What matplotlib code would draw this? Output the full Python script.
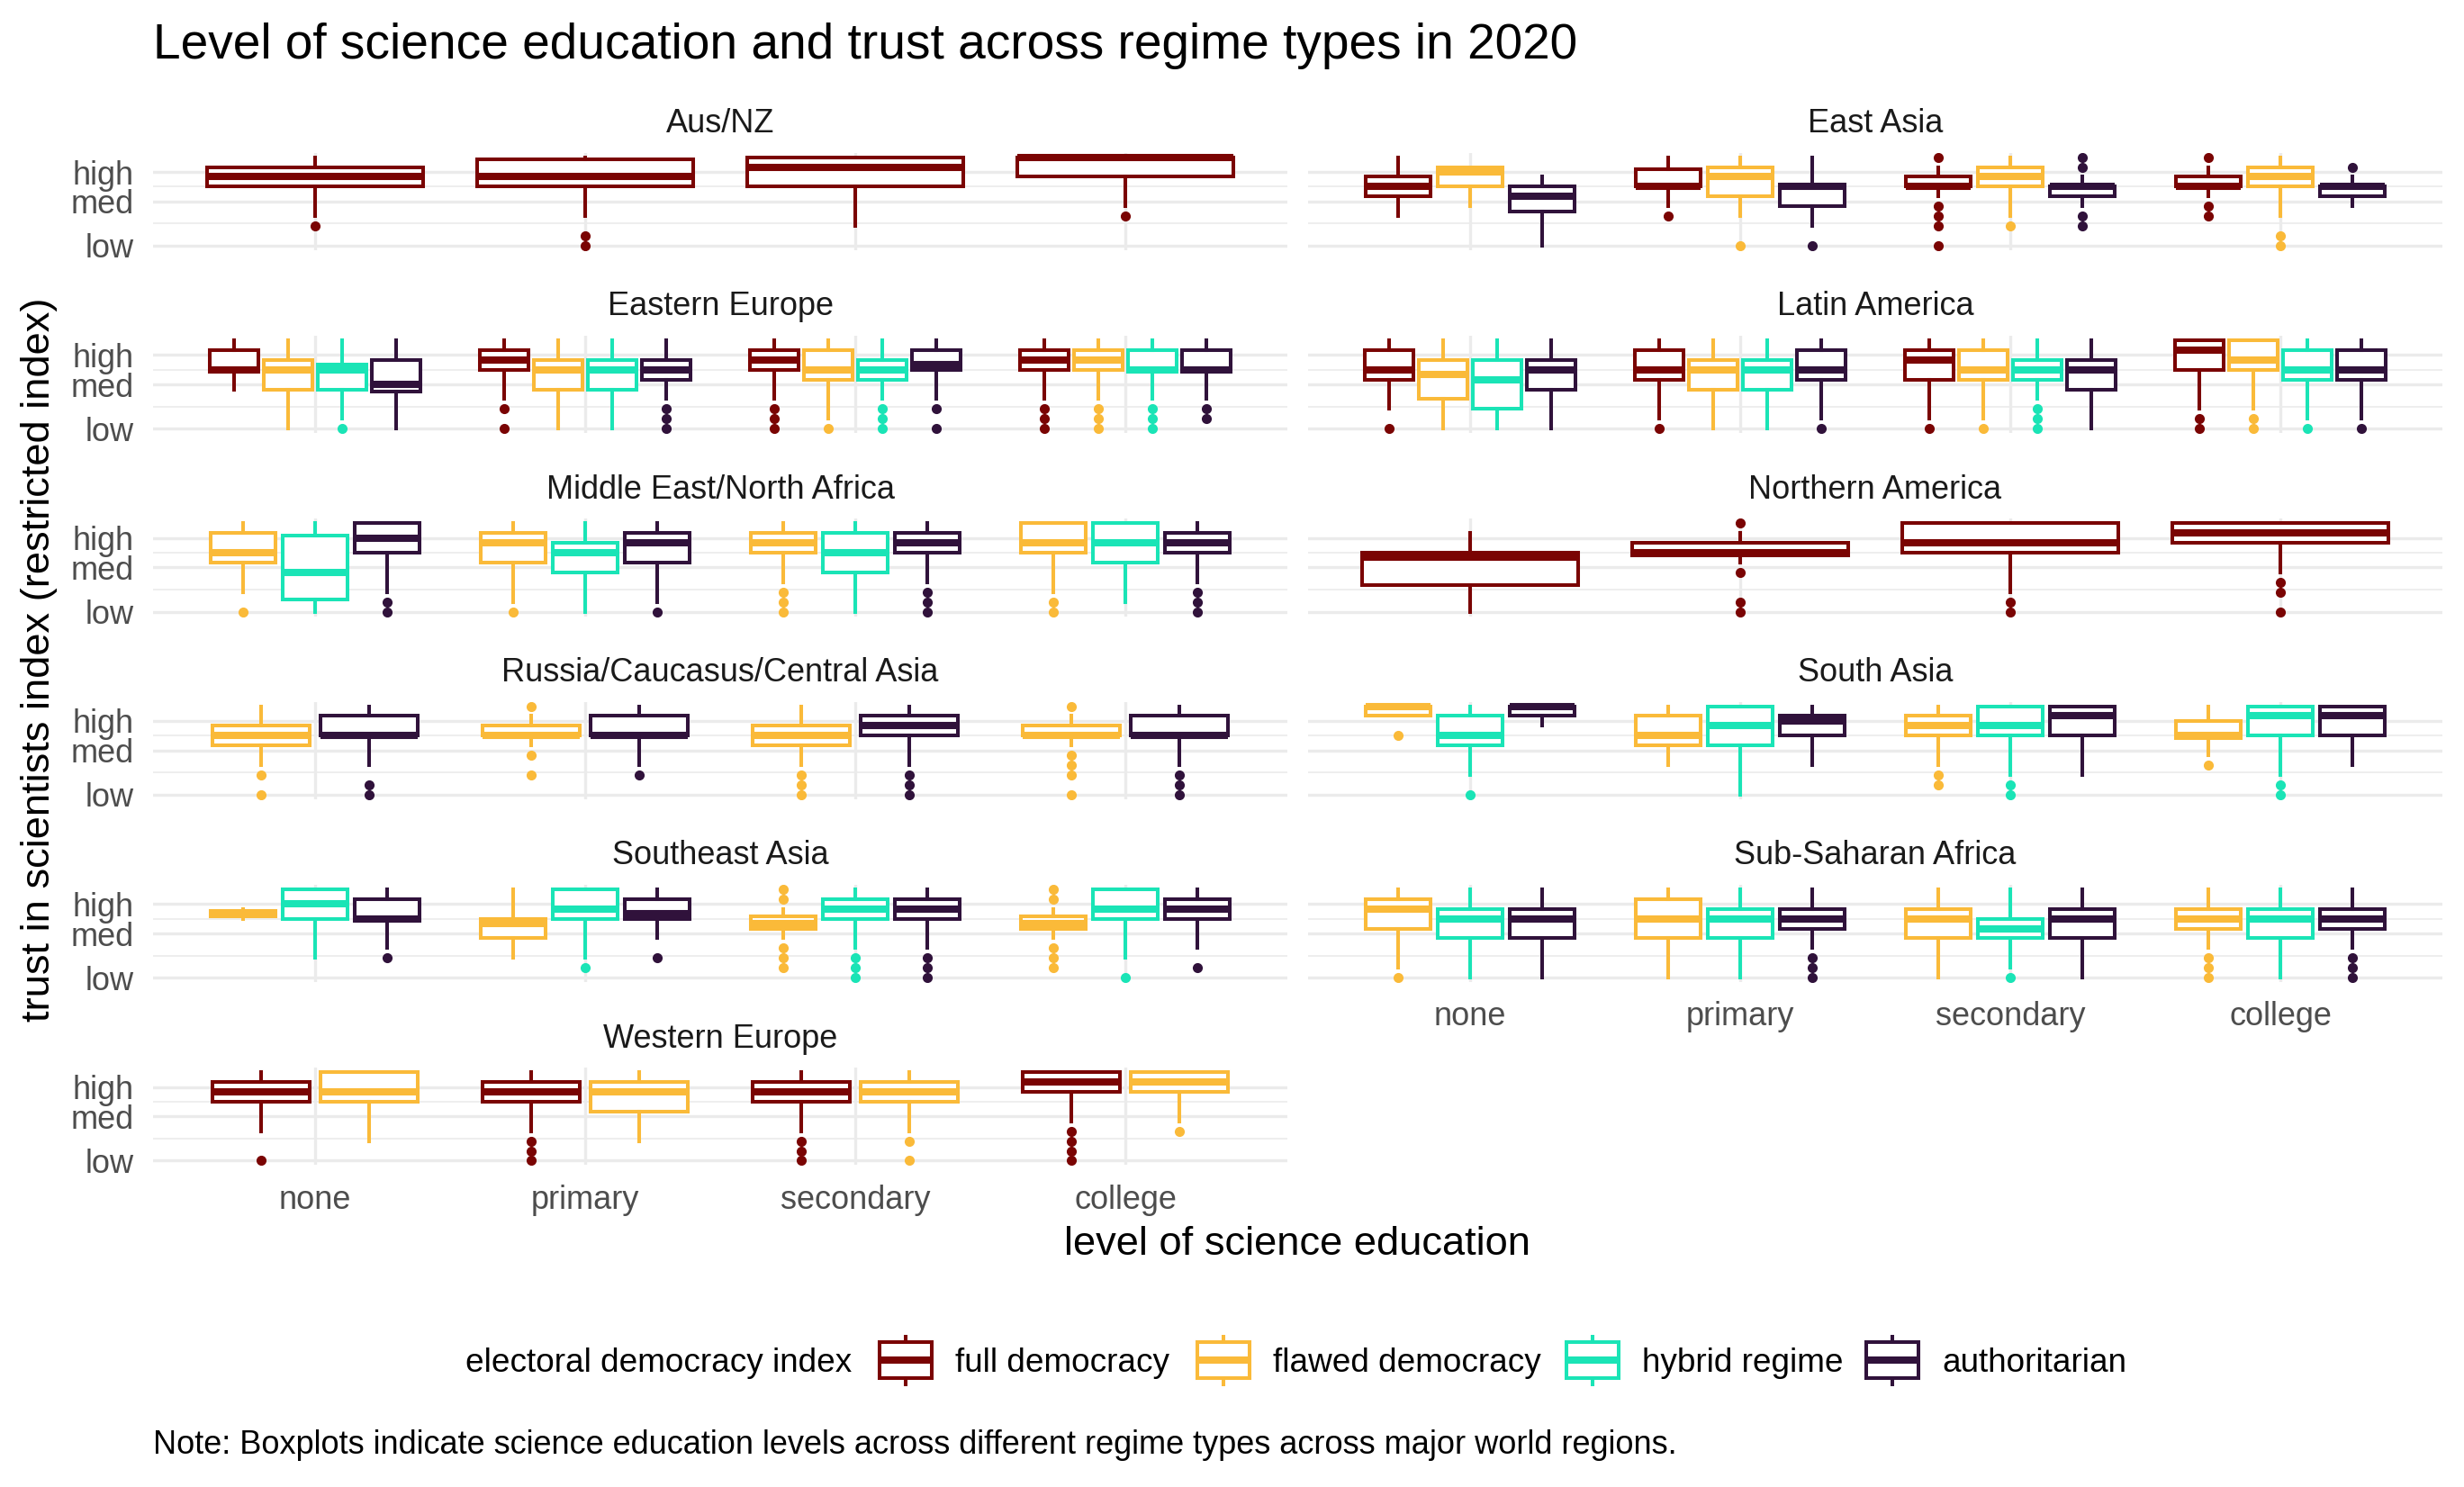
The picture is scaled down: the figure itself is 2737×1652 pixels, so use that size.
import matplotlib
matplotlib.use("Agg")
import matplotlib.pyplot as plt
from matplotlib.patches import Rectangle

plt.rcParams["font.family"] = ["Liberation Sans", "DejaVu Sans"]

EDUCATION = ["none", "primary", "secondary", "college"]
REGIMES = ["full democracy", "flawed democracy", "hybrid regime", "authoritarian"]
REGIME_COLORS = ["#7A0403", "#FABA39", "#1AE4B6", "#30123B"]
Y_TICKS = [0, 4.5, 7.5]
Y_TICK_LABELS = ["low", "med", "high"]
Y_MINOR = [2.25, 6.0]

# per region: regime -> one (lower whisker, q1, median, q3, upper whisker, outliers) per education level
AUS_NZ = {
    "full democracy": [(3, 6, 7, 8, 9, [2]), (3, 6, 7, 8.75, 9, [1, 0]),
                       (2, 6, 8, 9, 9, []), (4, 7, 9, 9, 9, [3])],
}
EAST_ASIA = {
    "full democracy": [(3, 5, 6, 7, 9, []), (4, 6, 6, 7.75, 9, [3]),
                       (5, 6, 6, 7, 8, [9, 4, 3, 2, 0]), (5, 6, 6, 7, 8, [9, 4, 3])],
    "flawed democracy": [(4, 6, 7.5, 8, 8, []), (3, 5, 7, 8, 9, [0]),
                         (3, 6, 7, 8, 9, [2]), (3, 6, 7, 8, 9, [1, 0])],
    "authoritarian": [(0, 3.5, 5, 6, 7, []), (2, 4, 6, 6.25, 9, [0]),
                      (4, 5, 6, 6, 7, [9, 8, 3, 2]), (4, 5, 6, 6, 7, [8])],
}
EASTERN_EUROPE = {
    "full democracy": [(4, 5.75, 6, 8, 9, []), (3, 6, 7, 8, 9, [2, 0]),
                       (3, 6, 7, 8, 9, [2, 1, 0]), (3, 6, 7, 8, 9, [2, 1, 0])],
    "flawed democracy": [(0, 4, 6, 7, 9, []), (0, 4, 6, 7, 9, []),
                         (1, 5, 6, 8, 9, [0]), (3, 6, 7, 8, 9, [2, 1, 0])],
    "hybrid regime": [(1, 4, 6, 6.5, 9, [0]), (0, 4, 6, 7, 9, []),
                      (3, 5, 6, 7, 9, [2, 1, 0]), (3, 5.75, 6, 8, 9, [2, 1, 0])],
    "authoritarian": [(0, 3.75, 4.5, 7, 9, []), (3, 5, 6, 7, 9, [2, 1, 0]),
                      (3, 6, 6.5, 8, 9, [2, 0]), (3, 5.75, 6, 8, 9, [2, 1])],
}
LATIN_AMERICA = {
    "full democracy": [(2, 5, 6, 8, 9, [0]), (1, 5, 6, 8, 9, [0]),
                       (1, 5, 7, 8, 9, [0]), (2, 6, 8, 9, 9, [1, 0])],
    "flawed democracy": [(0, 3, 5.5, 7, 9, []), (0, 4, 6, 7, 9, []),
                         (1, 5, 6, 8, 9, [0]), (2, 6, 7, 9, 9, [1, 0])],
    "hybrid regime": [(0, 2, 5, 7, 9, []), (0, 4, 6, 7, 9, []),
                      (3, 5, 6, 7, 9, [2, 1, 0]), (1, 5, 6, 8, 9, [0])],
    "authoritarian": [(0, 4, 6, 7, 9, []), (1, 5, 6, 8, 9, [0]),
                      (0, 4, 6, 7, 9, []), (1, 5, 6, 8, 9, [0])],
}
MIDDLE_EAST = {
    "flawed democracy": [(2, 5, 6, 8, 9, [0]), (1, 5, 7, 8, 9, [0]),
                         (3, 6, 7, 8, 9, [2, 1, 0]), (2, 6, 7, 9, 9, [1, 0])],
    "hybrid regime": [(0, 1.25, 4, 7.75, 9, []), (0, 4, 6, 7, 9, []),
                      (0, 4, 6, 8, 9, []), (1, 5, 7, 9, 9, [])],
    "authoritarian": [(2, 6, 7.5, 9, 9, [1, 0]), (1, 5, 7, 8, 9, [0]),
                      (3, 6, 7, 8, 9, [2, 1, 0]), (3, 6, 7, 8, 9, [2, 1, 0])],
}
NORTHERN_AMERICA = {
    "full democracy": [(0, 2.75, 5.5, 6, 8, []), (5, 5.75, 6, 7, 8, [9, 4, 1, 0]),
                       (2, 6, 7, 9, 9, [1, 0]), (4, 7, 8, 9, 9, [3, 2, 0])],
}
RUSSIA_CAUCASUS = {
    "flawed democracy": [(3, 5, 6, 7, 9, [2, 0]), (5, 6, 6, 7, 8, [9, 4, 2]),
                         (3, 5, 6, 7, 9, [2, 1, 0]), (5, 6, 6, 7, 8, [9, 4, 3, 2, 0])],
    "authoritarian": [(3, 6, 6, 8, 9, [1, 0]), (3, 6, 6, 8, 9, [2]),
                      (3, 6, 7, 8, 9, [2, 1, 0]), (3, 6, 6, 8, 9, [2, 1, 0])],
}
SOUTH_ASIA = {
    "flawed democracy": [(8, 8, 9, 9, 9, [6]), (3, 5, 6, 8, 9, []),
                         (3, 6, 7, 8, 9, [2, 1]), (4, 5.75, 6, 7.5, 9, [3])],
    "hybrid regime": [(2, 5, 6, 8, 9, [0]), (0, 5, 7, 9, 9, []),
                      (2, 6, 7, 9, 9, [1, 0]), (2, 6, 8, 9, 9, [1, 0])],
    "authoritarian": [(7, 8, 9, 9, 9, []), (3, 6, 7.5, 8, 9, []),
                      (2, 6, 8, 9, 9, []), (3, 6, 8, 9, 9, [])],
}
SOUTHEAST_ASIA = {
    "flawed democracy": [(6, 6.25, 6.5, 6.75, 7, []), (2, 4, 5.5, 6, 9, []),
                         (4, 5, 5.5, 6.25, 7, [9, 8, 3, 2, 1]), (4, 5, 5.5, 6.25, 7, [9, 8, 3, 2, 1])],
    "hybrid regime": [(2, 6, 7.5, 9, 9, []), (2, 6, 7, 9, 9, [1]),
                      (3, 6, 7, 8, 9, [2, 1, 0]), (2, 6, 7, 9, 9, [0])],
    "authoritarian": [(3, 5.75, 6, 8, 9, [2]), (4, 6, 6.5, 8, 9, [2]),
                      (3, 6, 7, 8, 9, [2, 1, 0]), (3, 6, 7, 8, 9, [1])],
}
SUB_SAHARAN = {
    "flawed democracy": [(1, 5, 7, 8, 9, [0]), (0, 4, 6, 8, 9, []),
                         (0, 4, 6, 7, 9, []), (3, 5, 6, 7, 9, [2, 1, 0])],
    "hybrid regime": [(0, 4, 6, 7, 9, []), (0, 4, 6, 7, 9, []),
                      (1, 4, 5, 6, 9, [0]), (0, 4, 6, 7, 9, [])],
    "authoritarian": [(0, 4, 6, 7, 9, []), (3, 5, 6, 7, 9, [2, 1, 0]),
                      (0, 4, 6, 7, 9, []), (3, 5, 6, 7, 9, [2, 1, 0])],
}
WESTERN_EUROPE = {
    "full democracy": [(3, 6, 7, 8, 9, [0]), (3, 6, 7, 8, 9, [2, 1, 0]),
                       (3, 6, 7, 8, 9, [2, 1, 0]), (4, 7, 8, 9, 9, [3, 2, 1, 0])],
    "flawed democracy": [(2, 6, 7, 9, 9, []), (2, 5, 7, 8, 9, []),
                         (3, 6, 7, 8, 9, [2, 0]), (4, 7, 8, 9, 9, [3])],
}

REGIONS = [
    ("Aus/NZ", AUS_NZ), ("East Asia", EAST_ASIA),
    ("Eastern Europe", EASTERN_EUROPE), ("Latin America", LATIN_AMERICA),
    ("Middle East/North Africa", MIDDLE_EAST), ("Northern America", NORTHERN_AMERICA),
    ("Russia/Caucasus/Central Asia", RUSSIA_CAUCASUS), ("South Asia", SOUTH_ASIA),
    ("Southeast Asia", SOUTHEAST_ASIA), ("Sub-Saharan Africa", SUB_SAHARAN),
    ("Western Europe", WESTERN_EUROPE),
]

# layout in output pixels
W, H, DPI = 2737, 1652, 200
COLS = [(170, 1430), (1453, 2713)]
ROW_TOP, ROW_PITCH, PANEL_H = 169.7, 203.3, 108.2
GRID = "#EBEBEB"
LW_BOX, LW_MED = 1.45, 2.9
GROUP_W = 0.8  # dodged boxes share this width, padded by 10% when more than one


def fx(px):
    return px / W


def fy(py):
    return 1 - py / H


def draw_panel(ax, data):
    present = [r for r in REGIMES if r in data]
    n = len(present)
    slot = GROUP_W / n
    box_w = slot if n == 1 else slot * 0.9
    for j, regime in enumerate(present):
        color = REGIME_COLORS[REGIMES.index(regime)]
        stats = []
        for lo, q1, med, q3, hi, out in data[regime]:
            stats.append(dict(whislo=lo, q1=q1, med=med, q3=q3, whishi=hi, fliers=out))
        positions = [i + 1 - GROUP_W / 2 + slot * (j + 0.5) for i in range(len(EDUCATION))]
        ax.bxp(stats, positions=positions, widths=box_w, patch_artist=True,
               showcaps=False, manage_ticks=False,
               boxprops=dict(facecolor="white", edgecolor=color, linewidth=LW_BOX),
               medianprops=dict(color=color, linewidth=LW_MED, solid_capstyle="butt"),
               whiskerprops=dict(color=color, linewidth=LW_BOX),
               flierprops=dict(marker="o", markerfacecolor=color, markeredgecolor=color,
                               markersize=3.0, linestyle="none"))


fig = plt.figure(figsize=(W / DPI, H / DPI), dpi=DPI)

last_in_col = {0: len(REGIONS) - 1 - (len(REGIONS) - 1) % 2, 1: len(REGIONS) - 1 - len(REGIONS) % 2}
for k, (name, data) in enumerate(REGIONS):
    row, col = divmod(k, 2)
    x0, x1 = COLS[col]
    top = ROW_TOP + row * ROW_PITCH
    ax = fig.add_axes([fx(x0), fy(top + PANEL_H), (x1 - x0) / W, PANEL_H / H])
    ax.set_xlim(0.4, 4.6)
    ax.set_ylim(-0.45, 9.45)
    for s in ax.spines.values():
        s.set_visible(False)
    ax.set_yticks(Y_TICKS)
    ax.set_yticks(Y_MINOR, minor=True)
    ax.set_xticks(range(1, len(EDUCATION) + 1))
    ax.grid(which="major", color=GRID, linewidth=1.2)
    ax.grid(which="minor", axis="y", color=GRID, linewidth=0.6)
    ax.set_axisbelow(True)
    ax.tick_params(which="both", length=0, labelsize=13, labelcolor="#4D4D4D", pad=7.7)
    if col == 0:
        ax.set_yticklabels(Y_TICK_LABELS)
    else:
        ax.set_yticklabels([])
    if k == last_in_col[col]:
        ax.set_xticklabels(EDUCATION)
    else:
        ax.set_xticklabels([])
    draw_panel(ax, data)
    fig.text(fx((x0 + x1) / 2), fy(top - 22.7), name, ha="center", va="baseline",
             fontsize=13, color="#1A1A1A")

fig.text(fx(170), fy(65), "Level of science education and trust across regime types in 2020",
         ha="left", va="baseline", fontsize=19.8, color="black")
fig.text(fx(1441), fy(1394), "level of science education", ha="center", va="baseline",
         fontsize=16.3, color="black")
fig.text(fx(44), fy(733), "trust in scientists index (restricted index)", ha="center",
         va="center", rotation=90, fontsize=16.3, color="black")
fig.text(fx(170), fy(1615),
         "Note: Boxplots indicate science education levels across different regime types across major world regions.",
         ha="left", va="baseline", fontsize=13.0, color="black")

# legend
leg = fig.add_axes([0, 0, 1, 1], zorder=5)
leg.set_xlim(0, W)
leg.set_ylim(H, 0)
leg.axis("off")
leg.patch.set_alpha(0)
ly = 1511
text_base = 1524
leg.text(517, text_base, "electoral democracy index", ha="left", va="baseline", fontsize=13.3)
key_x = [977, 1330, 1740, 2073]
for kx, regime, color in zip(key_x, REGIMES, REGIME_COLORS):
    cx = kx + 29
    leg.plot([cx, cx], [1483, 1491], color=color, lw=LW_BOX, solid_capstyle="butt")
    leg.plot([cx, cx], [1531, 1540], color=color, lw=LW_BOX, solid_capstyle="butt")
    leg.add_patch(Rectangle((kx, 1491), 58, 40, facecolor="white", edgecolor=color, lw=LW_BOX))
    leg.plot([kx, kx + 58], [ly, ly], color=color, lw=LW_MED, solid_capstyle="butt")
    leg.text(kx + 84, text_base, regime, ha="left", va="baseline", fontsize=13.3)

fig.savefig("out.png", dpi=DPI, facecolor="white")
